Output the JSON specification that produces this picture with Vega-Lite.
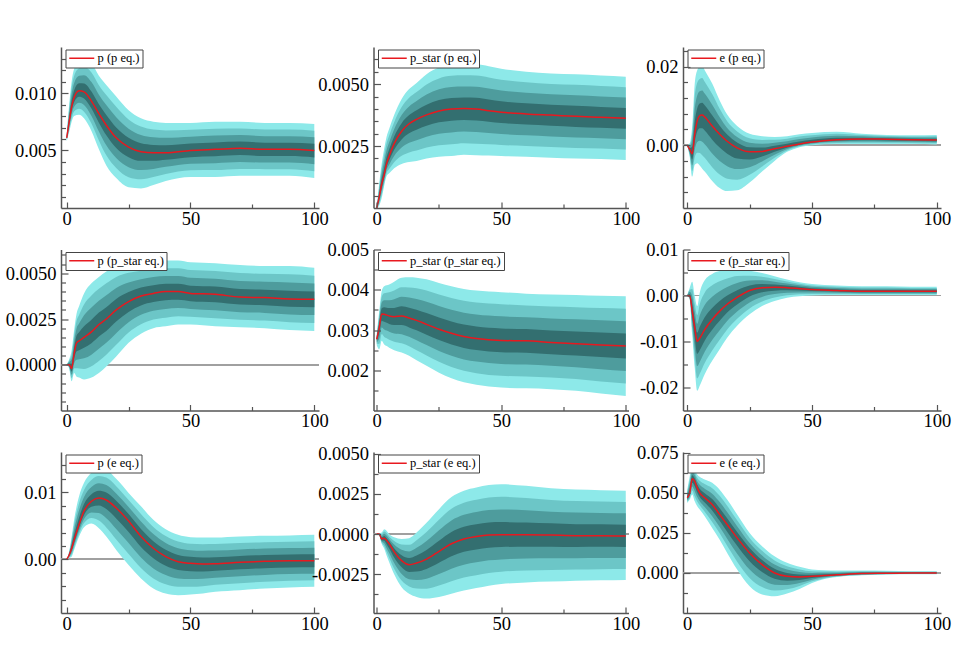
{
"$schema":"https://vega.github.io/schema/vega-lite/v6.json",
"background":"white",
"padding":{"left":5,"top":47,"right":5,"bottom":5},
"columns":3,
"spacing":{"row":41.5,"column":54.5},
"bounds":"flush",
"resolve":{"scale":{"x":"independent","y":"independent","color":"independent"},"legend":{"color":"independent"}},
"config":{
 "view":{"stroke":null},
 "axis":{"labelFont":"Liberation Serif","labelFontSize":18.5,"labelColor":"#000","domainColor":"#555","domainWidth":1.5,"tickColor":"#555","tickWidth":1.2,"grid":false,"labelFlush":false,"labelOverlap":false,"title":null},
 "legend":{"labelFont":"Liberation Serif","labelFontSize":12.5,"labelColor":"#000","strokeColor":"#444","fillColor":"#fff","padding":2.5,"symbolType":"M-1,0H4","symbolSize":100,"symbolStrokeWidth":1.5,"labelOffset":17,"cornerRadius":0}
},
"datasets":{
"A":[
{"t":0,"m":0.0061,"l1":0.0058,"h1":0.0064,"l2":0.00588,"h2":0.00632,"l3":0.00595,"h3":0.00625,"l4":0.00602,"h4":0.00618},
{"t":1,"m":0.0075,"l1":0.0066,"h1":0.009,"l2":0.00682,"h2":0.00862,"l3":0.00705,"h3":0.00825,"l4":0.00728,"h4":0.00788},
{"t":2,"m":0.0088,"l1":0.0075,"h1":0.011,"l2":0.00782,"h2":0.01045,"l3":0.00815,"h3":0.0099,"l4":0.00848,"h4":0.00935},
{"t":3,"m":0.0096,"l1":0.008,"h1":0.0121,"l2":0.0084,"h2":0.01148,"l3":0.0088,"h3":0.01085,"l4":0.0092,"h4":0.01022},
{"t":5,"m":0.0102,"l1":0.0081,"h1":0.0128,"l2":0.00862,"h2":0.01215,"l3":0.00915,"h3":0.0115,"l4":0.00968,"h4":0.01085},
{"t":7,"m":0.0101,"l1":0.0078,"h1":0.013,"l2":0.00838,"h2":0.01228,"l3":0.00895,"h3":0.01155,"l4":0.00952,"h4":0.01082},
{"t":10,"m":0.0093,"l1":0.0067,"h1":0.0126,"l2":0.00735,"h2":0.01178,"l3":0.008,"h3":0.01095,"l4":0.00865,"h4":0.01012},
{"t":13,"m":0.0082,"l1":0.0051,"h1":0.0115,"l2":0.00588,"h2":0.01068,"l3":0.00665,"h3":0.00985,"l4":0.00742,"h4":0.00902},
{"t":16,"m":0.0072,"l1":0.0037,"h1":0.0107,"l2":0.00458,"h2":0.00982,"l3":0.00545,"h3":0.00895,"l4":0.00632,"h4":0.00808},
{"t":20,"m":0.0061,"l1":0.0026,"h1":0.0097,"l2":0.00348,"h2":0.0088,"l3":0.00435,"h3":0.0079,"l4":0.00522,"h4":0.007},
{"t":25,"m":0.0053,"l1":0.0018,"h1":0.0085,"l2":0.00268,"h2":0.0077,"l3":0.00355,"h3":0.0069,"l4":0.00442,"h4":0.0061},
{"t":30,"m":0.0049,"l1":0.0017,"h1":0.0078,"l2":0.0025,"h2":0.00708,"l3":0.0033,"h3":0.00635,"l4":0.0041,"h4":0.00562},
{"t":35,"m":0.0048,"l1":0.002,"h1":0.0075,"l2":0.0027,"h2":0.00682,"l3":0.0034,"h3":0.00615,"l4":0.0041,"h4":0.00548},
{"t":40,"m":0.0048,"l1":0.00235,"h1":0.0074,"l2":0.00296,"h2":0.00675,"l3":0.00358,"h3":0.0061,"l4":0.00419,"h4":0.00545},
{"t":50,"m":0.005,"l1":0.0027,"h1":0.0074,"l2":0.00328,"h2":0.0068,"l3":0.00385,"h3":0.0062,"l4":0.00442,"h4":0.0056},
{"t":60,"m":0.0051,"l1":0.0027,"h1":0.0075,"l2":0.0033,"h2":0.0069,"l3":0.0039,"h3":0.0063,"l4":0.0045,"h4":0.0057},
{"t":70,"m":0.0052,"l1":0.0028,"h1":0.0075,"l2":0.0034,"h2":0.00692,"l3":0.004,"h3":0.00635,"l4":0.0046,"h4":0.00578},
{"t":80,"m":0.0051,"l1":0.0028,"h1":0.0074,"l2":0.00338,"h2":0.00682,"l3":0.00395,"h3":0.00625,"l4":0.00452,"h4":0.00568},
{"t":90,"m":0.0051,"l1":0.0028,"h1":0.0074,"l2":0.00338,"h2":0.00682,"l3":0.00395,"h3":0.00625,"l4":0.00452,"h4":0.00568},
{"t":100,"m":0.005,"l1":0.0026,"h1":0.0073,"l2":0.0032,"h2":0.00672,"l3":0.0038,"h3":0.00615,"l4":0.0044,"h4":0.00558}
],
"B":[
{"t":0,"m":0,"l1":0,"h1":0,"l2":0,"h2":0,"l3":0,"h3":0,"l4":0,"h4":0},
{"t":1,"m":0.00045,"l1":0.0001,"h1":0.001,"l2":0.000188,"h2":0.000862,"l3":0.000275,"h3":0.000725,"l4":0.000362,"h4":0.000588},
{"t":2,"m":0.00097,"l1":0.0004,"h1":0.0018,"l2":0.000542,"h2":0.001592,"l3":0.000685,"h3":0.001385,"l4":0.000828,"h4":0.001178},
{"t":3,"m":0.00135,"l1":0.0009,"h1":0.0024,"l2":0.001012,"h2":0.002138,"l3":0.001125,"h3":0.001875,"l4":0.001238,"h4":0.001612},
{"t":4,"m":0.0018,"l1":0.0013,"h1":0.0029,"l2":0.001425,"h2":0.002625,"l3":0.00155,"h3":0.00235,"l4":0.001675,"h4":0.002075},
{"t":5,"m":0.0021,"l1":0.0014,"h1":0.0032,"l2":0.001575,"h2":0.002925,"l3":0.00175,"h3":0.00265,"l4":0.001925,"h4":0.002375},
{"t":7,"m":0.0026,"l1":0.0016,"h1":0.00375,"l2":0.00185,"h2":0.003462,"l3":0.0021,"h3":0.003175,"l4":0.00235,"h4":0.002888},
{"t":10,"m":0.0031,"l1":0.00178,"h1":0.0044,"l2":0.00211,"h2":0.004075,"l3":0.00244,"h3":0.00375,"l4":0.00277,"h4":0.003425},
{"t":13,"m":0.0034,"l1":0.00186,"h1":0.0048,"l2":0.002245,"h2":0.00445,"l3":0.00263,"h3":0.0041,"l4":0.003015,"h4":0.00375},
{"t":16,"m":0.00358,"l1":0.0019,"h1":0.00505,"l2":0.00232,"h2":0.004682,"l3":0.00274,"h3":0.004315,"l4":0.00316,"h4":0.003948},
{"t":20,"m":0.00376,"l1":0.002,"h1":0.0054,"l2":0.00244,"h2":0.00499,"l3":0.00288,"h3":0.00458,"l4":0.00332,"h4":0.00417},
{"t":25,"m":0.00392,"l1":0.00207,"h1":0.00567,"l2":0.002532,"h2":0.005232,"l3":0.002995,"h3":0.004795,"l4":0.003458,"h4":0.004358},
{"t":30,"m":0.004,"l1":0.0021,"h1":0.00578,"l2":0.002575,"h2":0.005335,"l3":0.00305,"h3":0.00489,"l4":0.003525,"h4":0.004445},
{"t":35,"m":0.00402,"l1":0.00215,"h1":0.0058,"l2":0.002618,"h2":0.005355,"l3":0.003085,"h3":0.00491,"l4":0.003552,"h4":0.004465},
{"t":40,"m":0.004,"l1":0.00213,"h1":0.0058,"l2":0.002598,"h2":0.00535,"l3":0.003065,"h3":0.0049,"l4":0.003532,"h4":0.00445},
{"t":45,"m":0.00393,"l1":0.00212,"h1":0.00572,"l2":0.002572,"h2":0.005272,"l3":0.003025,"h3":0.004825,"l4":0.003478,"h4":0.004378},
{"t":50,"m":0.00387,"l1":0.0021,"h1":0.00562,"l2":0.002542,"h2":0.005182,"l3":0.002985,"h3":0.004745,"l4":0.003428,"h4":0.004308},
{"t":60,"m":0.0038,"l1":0.00207,"h1":0.0055,"l2":0.002502,"h2":0.005075,"l3":0.002935,"h3":0.00465,"l4":0.003368,"h4":0.004225},
{"t":70,"m":0.00375,"l1":0.00203,"h1":0.00543,"l2":0.00246,"h2":0.00501,"l3":0.00289,"h3":0.00459,"l4":0.00332,"h4":0.00417},
{"t":80,"m":0.0037,"l1":0.002,"h1":0.0054,"l2":0.002425,"h2":0.004975,"l3":0.00285,"h3":0.00455,"l4":0.003275,"h4":0.004125},
{"t":90,"m":0.00366,"l1":0.00198,"h1":0.00535,"l2":0.0024,"h2":0.004928,"l3":0.00282,"h3":0.004505,"l4":0.00324,"h4":0.004082},
{"t":100,"m":0.00362,"l1":0.00194,"h1":0.0053,"l2":0.00236,"h2":0.00488,"l3":0.00278,"h3":0.00446,"l4":0.0032,"h4":0.00404}
],
"C":[
{"t":0,"m":0,"l1":0,"h1":0,"l2":0,"h2":0,"l3":0,"h3":0,"l4":0,"h4":0},
{"t":1,"m":-0.0011,"l1":-0.003,"h1":0.0005,"l2":-0.00252,"h2":0.0001,"l3":-0.00205,"h3":-0.0003,"l4":-0.00158,"h4":-0.0007},
{"t":2,"m":-0.0022,"l1":-0.008,"h1":0.005,"l2":-0.00655,"h2":0.0032,"l3":-0.0051,"h3":0.0014,"l4":-0.00365,"h4":-0.0004},
{"t":3,"m":0.0028,"l1":-0.005,"h1":0.0157,"l2":-0.00305,"h2":0.01248,"l3":-0.0011,"h3":0.00925,"l4":0.00085,"h4":0.00602},
{"t":4,"m":0.0062,"l1":-0.0046,"h1":0.0191,"l2":-0.0019,"h2":0.01588,"l3":0.0008,"h3":0.01265,"l4":0.0035,"h4":0.00942},
{"t":5,"m":0.0075,"l1":-0.0052,"h1":0.02,"l2":-0.00202,"h2":0.01688,"l3":0.00115,"h3":0.01375,"l4":0.00432,"h4":0.01062},
{"t":6,"m":0.0077,"l1":-0.006,"h1":0.0202,"l2":-0.00258,"h2":0.01708,"l3":0.00085,"h3":0.01395,"l4":0.00428,"h4":0.01082},
{"t":7,"m":0.0072,"l1":-0.0067,"h1":0.0191,"l2":-0.00322,"h2":0.01612,"l3":0.00025,"h3":0.01315,"l4":0.00372,"h4":0.01018},
{"t":10,"m":0.0049,"l1":-0.0091,"h1":0.0157,"l2":-0.0056,"h2":0.013,"l3":-0.0021,"h3":0.0103,"l4":0.0014,"h4":0.0076},
{"t":13,"m":0.0028,"l1":-0.0109,"h1":0.0114,"l2":-0.00748,"h2":0.00925,"l3":-0.00405,"h3":0.0071,"l4":-0.00062,"h4":0.00495},
{"t":16,"m":0.001,"l1":-0.0117,"h1":0.0078,"l2":-0.00852,"h2":0.0061,"l3":-0.00535,"h3":0.0044,"l4":-0.00218,"h4":0.0027},
{"t":20,"m":-0.0007,"l1":-0.0115,"h1":0.0049,"l2":-0.0088,"h2":0.0035,"l3":-0.0061,"h3":0.0021,"l4":-0.0034,"h4":0.0007},
{"t":25,"m":-0.0017,"l1":-0.0095,"h1":0.0029,"l2":-0.00755,"h2":0.00175,"l3":-0.0056,"h3":0.0006,"l4":-0.00365,"h4":-0.00055},
{"t":30,"m":-0.0016,"l1":-0.0067,"h1":0.0023,"l2":-0.00542,"h2":0.00132,"l3":-0.00415,"h3":0.00035,"l4":-0.00288,"h4":-0.00062},
{"t":35,"m":-0.0009,"l1":-0.004,"h1":0.0021,"l2":-0.00322,"h2":0.00135,"l3":-0.00245,"h3":0.0006,"l4":-0.00168,"h4":-0.00015},
{"t":40,"m":-0.0003,"l1":-0.0017,"h1":0.0023,"l2":-0.00135,"h2":0.00165,"l3":-0.001,"h3":0.001,"l4":-0.00065,"h4":0.00035},
{"t":45,"m":0.0003,"l1":-0.0005,"h1":0.0028,"l2":-0.0003,"h2":0.00218,"l3":-0.0001,"h3":0.00155,"l4":0.0001,"h4":0.00092},
{"t":50,"m":0.0008,"l1":0,"h1":0.0031,"l2":0.0002,"h2":0.00252,"l3":0.0004,"h3":0.00195,"l4":0.0006,"h4":0.00138},
{"t":60,"m":0.0014,"l1":0.0003,"h1":0.0034,"l2":0.00058,"h2":0.0029,"l3":0.00085,"h3":0.0024,"l4":0.00112,"h4":0.0019},
{"t":70,"m":0.0016,"l1":0.0003,"h1":0.0029,"l2":0.00062,"h2":0.00258,"l3":0.00095,"h3":0.00225,"l4":0.00128,"h4":0.00192},
{"t":80,"m":0.0015,"l1":0.0003,"h1":0.0026,"l2":0.0006,"h2":0.00232,"l3":0.0009,"h3":0.00205,"l4":0.0012,"h4":0.00178},
{"t":90,"m":0.0014,"l1":0.0003,"h1":0.0025,"l2":0.00058,"h2":0.00222,"l3":0.00085,"h3":0.00195,"l4":0.00112,"h4":0.00168},
{"t":100,"m":0.0013,"l1":0.0002,"h1":0.0026,"l2":0.00048,"h2":0.00228,"l3":0.00075,"h3":0.00195,"l4":0.00102,"h4":0.00162}
],
"D":[
{"t":0,"m":0,"l1":0,"h1":0,"l2":0,"h2":0,"l3":0,"h3":0,"l4":0,"h4":0},
{"t":1,"m":0,"l1":-0.0002,"h1":0.0003,"l2":-0.00015,"h2":0.000225,"l3":-0.0001,"h3":0.00015,"l4":-0.00005,"h4":0.000075},
{"t":2,"m":-0.0002,"l1":-0.0009,"h1":0.0008,"l2":-0.000725,"h2":0.00055,"l3":-0.00055,"h3":0.0003,"l4":-0.000375,"h4":0.00005},
{"t":3,"m":0.0006,"l1":-0.00045,"h1":0.0019,"l2":-0.000188,"h2":0.001575,"l3":0.000075,"h3":0.00125,"l4":0.000338,"h4":0.000925},
{"t":4,"m":0.0012,"l1":-0.00065,"h1":0.0028,"l2":-0.000188,"h2":0.0024,"l3":0.000275,"h3":0.002,"l4":0.000738,"h4":0.0016},
{"t":5,"m":0.0013,"l1":-0.0007,"h1":0.0032,"l2":-0.0002,"h2":0.002725,"l3":0.0003,"h3":0.00225,"l4":0.0008,"h4":0.001775},
{"t":7,"m":0.0015,"l1":-0.0008,"h1":0.0039,"l2":-0.000225,"h2":0.0033,"l3":0.00035,"h3":0.0027,"l4":0.000925,"h4":0.0021},
{"t":10,"m":0.0018,"l1":-0.0007,"h1":0.00445,"l2":-0.000075,"h2":0.003788,"l3":0.00055,"h3":0.003125,"l4":0.001175,"h4":0.002462},
{"t":13,"m":0.0022,"l1":-0.00045,"h1":0.0048,"l2":0.000212,"h2":0.00415,"l3":0.000875,"h3":0.0035,"l4":0.001538,"h4":0.00285},
{"t":16,"m":0.0025,"l1":-0.0001,"h1":0.0051,"l2":0.00055,"h2":0.00445,"l3":0.0012,"h3":0.0038,"l4":0.00185,"h4":0.00315},
{"t":20,"m":0.003,"l1":0.00045,"h1":0.0054,"l2":0.001088,"h2":0.0048,"l3":0.001725,"h3":0.0042,"l4":0.002362,"h4":0.0036},
{"t":25,"m":0.00345,"l1":0.0012,"h1":0.00555,"l2":0.001762,"h2":0.005025,"l3":0.002325,"h3":0.0045,"l4":0.002888,"h4":0.003975},
{"t":30,"m":0.00376,"l1":0.0017,"h1":0.0056,"l2":0.002215,"h2":0.00514,"l3":0.00273,"h3":0.00468,"l4":0.003245,"h4":0.00422},
{"t":35,"m":0.0039,"l1":0.002,"h1":0.0057,"l2":0.002475,"h2":0.00525,"l3":0.00295,"h3":0.0048,"l4":0.003425,"h4":0.00435},
{"t":40,"m":0.004,"l1":0.0021,"h1":0.0057,"l2":0.002575,"h2":0.005275,"l3":0.00305,"h3":0.00485,"l4":0.003525,"h4":0.004425},
{"t":45,"m":0.004,"l1":0.0022,"h1":0.0057,"l2":0.00265,"h2":0.005275,"l3":0.0031,"h3":0.00485,"l4":0.00355,"h4":0.004425},
{"t":50,"m":0.0039,"l1":0.0022,"h1":0.0056,"l2":0.002625,"h2":0.005175,"l3":0.00305,"h3":0.00475,"l4":0.003475,"h4":0.004325},
{"t":60,"m":0.00385,"l1":0.0021,"h1":0.00555,"l2":0.002538,"h2":0.005125,"l3":0.002975,"h3":0.0047,"l4":0.003412,"h4":0.004275},
{"t":70,"m":0.0037,"l1":0.00205,"h1":0.00545,"l2":0.002462,"h2":0.005012,"l3":0.002875,"h3":0.004575,"l4":0.003288,"h4":0.004138},
{"t":80,"m":0.00367,"l1":0.002,"h1":0.0054,"l2":0.002418,"h2":0.004968,"l3":0.002835,"h3":0.004535,"l4":0.003252,"h4":0.004102},
{"t":90,"m":0.0036,"l1":0.0019,"h1":0.0054,"l2":0.002325,"h2":0.00495,"l3":0.00275,"h3":0.0045,"l4":0.003175,"h4":0.00405},
{"t":100,"m":0.00358,"l1":0.00185,"h1":0.0053,"l2":0.002282,"h2":0.00487,"l3":0.002715,"h3":0.00444,"l4":0.003148,"h4":0.00401}
],
"E":[
{"t":0,"m":0.00277,"l1":0.00262,"h1":0.0029,"l2":0.002658,"h2":0.002868,"l3":0.002695,"h3":0.002835,"l4":0.002732,"h4":0.002802},
{"t":1,"m":0.00306,"l1":0.00252,"h1":0.00347,"l2":0.002655,"h2":0.003368,"l3":0.00279,"h3":0.003265,"l4":0.002925,"h4":0.003162},
{"t":2,"m":0.0034,"l1":0.00273,"h1":0.00397,"l2":0.002898,"h2":0.003828,"l3":0.003065,"h3":0.003685,"l4":0.003232,"h4":0.003542},
{"t":3,"m":0.00339,"l1":0.00264,"h1":0.00409,"l2":0.002828,"h2":0.003915,"l3":0.003015,"h3":0.00374,"l4":0.003202,"h4":0.003565},
{"t":4,"m":0.00337,"l1":0.0026,"h1":0.00411,"l2":0.002792,"h2":0.003925,"l3":0.002985,"h3":0.00374,"l4":0.003178,"h4":0.003555},
{"t":5,"m":0.00335,"l1":0.00256,"h1":0.00413,"l2":0.002758,"h2":0.003935,"l3":0.002955,"h3":0.00374,"l4":0.003152,"h4":0.003545},
{"t":7,"m":0.00333,"l1":0.0025,"h1":0.0042,"l2":0.002708,"h2":0.003982,"l3":0.002915,"h3":0.003765,"l4":0.003122,"h4":0.003548},
{"t":10,"m":0.00335,"l1":0.00244,"h1":0.0043,"l2":0.002668,"h2":0.004062,"l3":0.002895,"h3":0.003825,"l4":0.003122,"h4":0.003588},
{"t":13,"m":0.0033,"l1":0.00236,"h1":0.00431,"l2":0.002595,"h2":0.004058,"l3":0.00283,"h3":0.003805,"l4":0.003065,"h4":0.003552},
{"t":16,"m":0.00324,"l1":0.00225,"h1":0.0043,"l2":0.002498,"h2":0.004035,"l3":0.002745,"h3":0.00377,"l4":0.002992,"h4":0.003505},
{"t":20,"m":0.00314,"l1":0.00211,"h1":0.00426,"l2":0.002368,"h2":0.00398,"l3":0.002625,"h3":0.0037,"l4":0.002882,"h4":0.00342},
{"t":25,"m":0.00302,"l1":0.00194,"h1":0.00417,"l2":0.00221,"h2":0.003882,"l3":0.00248,"h3":0.003595,"l4":0.00275,"h4":0.003308},
{"t":30,"m":0.00292,"l1":0.0018,"h1":0.00409,"l2":0.00208,"h2":0.003798,"l3":0.00236,"h3":0.003505,"l4":0.00264,"h4":0.003212},
{"t":35,"m":0.00284,"l1":0.0017,"h1":0.00402,"l2":0.001985,"h2":0.003725,"l3":0.00227,"h3":0.00343,"l4":0.002555,"h4":0.003135},
{"t":40,"m":0.00279,"l1":0.00164,"h1":0.00398,"l2":0.001928,"h2":0.003682,"l3":0.002215,"h3":0.003385,"l4":0.002502,"h4":0.003088},
{"t":50,"m":0.00274,"l1":0.00157,"h1":0.00394,"l2":0.001862,"h2":0.00364,"l3":0.002155,"h3":0.00334,"l4":0.002448,"h4":0.00304},
{"t":60,"m":0.00273,"l1":0.00155,"h1":0.0039,"l2":0.001845,"h2":0.003608,"l3":0.00214,"h3":0.003315,"l4":0.002435,"h4":0.003022},
{"t":70,"m":0.00269,"l1":0.00153,"h1":0.00388,"l2":0.00182,"h2":0.003582,"l3":0.00211,"h3":0.003285,"l4":0.0024,"h4":0.002988},
{"t":80,"m":0.00266,"l1":0.00149,"h1":0.00387,"l2":0.001782,"h2":0.003568,"l3":0.002075,"h3":0.003265,"l4":0.002368,"h4":0.002962},
{"t":90,"m":0.00263,"l1":0.00142,"h1":0.00385,"l2":0.001722,"h2":0.003545,"l3":0.002025,"h3":0.00324,"l4":0.002328,"h4":0.002935},
{"t":100,"m":0.0026,"l1":0.00136,"h1":0.00384,"l2":0.00167,"h2":0.00353,"l3":0.00198,"h3":0.00322,"l4":0.00229,"h4":0.00291}
],
"F":[
{"t":0,"m":0,"l1":0,"h1":0,"l2":0,"h2":0,"l3":0,"h3":0,"l4":0,"h4":0},
{"t":1,"m":-0.0001,"l1":-0.0009,"h1":0.0017,"l2":-0.0007,"h2":0.00125,"l3":-0.0005,"h3":0.0008,"l4":-0.0003,"h4":0.00035},
{"t":2,"m":-0.0034,"l1":-0.0084,"h1":0.003,"l2":-0.00715,"h2":0.0014,"l3":-0.0059,"h3":-0.0002,"l4":-0.00465,"h4":-0.0018},
{"t":3,"m":-0.007,"l1":-0.0157,"h1":-0.0001,"l2":-0.01352,"h2":-0.00182,"l3":-0.01135,"h3":-0.00355,"l4":-0.00918,"h4":-0.00528},
{"t":4,"m":-0.01,"l1":-0.0207,"h1":-0.0023,"l2":-0.01802,"h2":-0.00422,"l3":-0.01535,"h3":-0.00615,"l4":-0.01268,"h4":-0.00808},
{"t":5,"m":-0.0093,"l1":-0.0196,"h1":0.0006,"l2":-0.01702,"h2":-0.00188,"l3":-0.01445,"h3":-0.00435,"l4":-0.01188,"h4":-0.00682},
{"t":7,"m":-0.0074,"l1":-0.0171,"h1":0.0033,"l2":-0.01468,"h2":0.00062,"l3":-0.01225,"h3":-0.00205,"l4":-0.00982,"h4":-0.00472},
{"t":10,"m":-0.0052,"l1":-0.0142,"h1":0.0047,"l2":-0.01195,"h2":0.00222,"l3":-0.0097,"h3":-0.00025,"l4":-0.00745,"h4":-0.00272},
{"t":13,"m":-0.0034,"l1":-0.0117,"h1":0.0053,"l2":-0.00962,"h2":0.00312,"l3":-0.00755,"h3":0.00095,"l4":-0.00548,"h4":-0.00122},
{"t":16,"m":-0.0019,"l1":-0.0092,"h1":0.0056,"l2":-0.00738,"h2":0.00372,"l3":-0.00555,"h3":0.00185,"l4":-0.00372,"h4":-0.00002},
{"t":20,"m":-0.0004,"l1":-0.0066,"h1":0.0058,"l2":-0.00505,"h2":0.00425,"l3":-0.0035,"h3":0.0027,"l4":-0.00195,"h4":0.00115},
{"t":25,"m":0.0011,"l1":-0.0041,"h1":0.0054,"l2":-0.0028,"h2":0.00432,"l3":-0.0015,"h3":0.00325,"l4":-0.0002,"h4":0.00218},
{"t":30,"m":0.0017,"l1":-0.0023,"h1":0.0049,"l2":-0.0013,"h2":0.0041,"l3":-0.0003,"h3":0.0033,"l4":0.0007,"h4":0.0025},
{"t":35,"m":0.0018,"l1":-0.0012,"h1":0.0042,"l2":-0.00045,"h2":0.0036,"l3":0.0003,"h3":0.003,"l4":0.00105,"h4":0.0024},
{"t":40,"m":0.0017,"l1":-0.0005,"h1":0.0035,"l2":0.00005,"h2":0.00305,"l3":0.0006,"h3":0.0026,"l4":0.00115,"h4":0.00215},
{"t":50,"m":0.0013,"l1":0,"h1":0.0025,"l2":0.00032,"h2":0.0022,"l3":0.00065,"h3":0.0019,"l4":0.00098,"h4":0.0016},
{"t":60,"m":0.0011,"l1":0.0001,"h1":0.0022,"l2":0.00035,"h2":0.00192,"l3":0.0006,"h3":0.00165,"l4":0.00085,"h4":0.00138},
{"t":70,"m":0.0009,"l1":0.0001,"h1":0.002,"l2":0.0003,"h2":0.00172,"l3":0.0005,"h3":0.00145,"l4":0.0007,"h4":0.00118},
{"t":80,"m":0.0009,"l1":0.0001,"h1":0.002,"l2":0.0003,"h2":0.00172,"l3":0.0005,"h3":0.00145,"l4":0.0007,"h4":0.00118},
{"t":90,"m":0.0009,"l1":0.0001,"h1":0.0019,"l2":0.0003,"h2":0.00165,"l3":0.0005,"h3":0.0014,"l4":0.0007,"h4":0.00115},
{"t":100,"m":0.0009,"l1":0.0001,"h1":0.0019,"l2":0.0003,"h2":0.00165,"l3":0.0005,"h3":0.0014,"l4":0.0007,"h4":0.00115}
],
"G":[
{"t":0,"m":0,"l1":0,"h1":0,"l2":0,"h2":0,"l3":0,"h3":0,"l4":0,"h4":0},
{"t":1,"m":0.00065,"l1":0.0002,"h1":0.0012,"l2":0.000312,"h2":0.001062,"l3":0.000425,"h3":0.000925,"l4":0.000538,"h4":0.000788},
{"t":2,"m":0.00165,"l1":0.0004,"h1":0.0034,"l2":0.000712,"h2":0.002962,"l3":0.001025,"h3":0.002525,"l4":0.001338,"h4":0.002088},
{"t":3,"m":0.0029,"l1":0.0014,"h1":0.0059,"l2":0.001775,"h2":0.00515,"l3":0.00215,"h3":0.0044,"l4":0.002525,"h4":0.00365},
{"t":5,"m":0.0052,"l1":0.0034,"h1":0.0094,"l2":0.00385,"h2":0.00835,"l3":0.0043,"h3":0.0073,"l4":0.00475,"h4":0.00625},
{"t":7,"m":0.0072,"l1":0.0048,"h1":0.0114,"l2":0.0054,"h2":0.01035,"l3":0.006,"h3":0.0093,"l4":0.0066,"h4":0.00825},
{"t":10,"m":0.00865,"l1":0.00535,"h1":0.0129,"l2":0.006175,"h2":0.011838,"l3":0.007,"h3":0.010775,"l4":0.007825,"h4":0.009712},
{"t":13,"m":0.00915,"l1":0.00465,"h1":0.0135,"l2":0.005775,"h2":0.012412,"l3":0.0069,"h3":0.011325,"l4":0.008025,"h4":0.010238},
{"t":16,"m":0.00885,"l1":0.0034,"h1":0.0133,"l2":0.004762,"h2":0.012188,"l3":0.006125,"h3":0.011075,"l4":0.007488,"h4":0.009962},
{"t":20,"m":0.00765,"l1":0.0014,"h1":0.012,"l2":0.002962,"h2":0.010912,"l3":0.004525,"h3":0.009825,"l4":0.006088,"h4":0.008738},
{"t":25,"m":0.0057,"l1":-0.00085,"h1":0.0099,"l2":0.000788,"h2":0.00885,"l3":0.002425,"h3":0.0078,"l4":0.004062,"h4":0.00675},
{"t":30,"m":0.0034,"l1":-0.00285,"h1":0.0079,"l2":-0.001288,"h2":0.006775,"l3":0.000275,"h3":0.00565,"l4":0.001838,"h4":0.004525},
{"t":35,"m":0.00165,"l1":-0.00435,"h1":0.0059,"l2":-0.00285,"h2":0.004838,"l3":-0.00135,"h3":0.003775,"l4":0.00015,"h4":0.002712},
{"t":40,"m":0.0004,"l1":-0.0051,"h1":0.0045,"l2":-0.003725,"h2":0.003475,"l3":-0.00235,"h3":0.00245,"l4":-0.000975,"h4":0.001425},
{"t":45,"m":-0.00035,"l1":-0.00535,"h1":0.00365,"l2":-0.0041,"h2":0.00265,"l3":-0.00285,"h3":0.00165,"l4":-0.0016,"h4":0.00065},
{"t":50,"m":-0.0006,"l1":-0.00525,"h1":0.0033,"l2":-0.004088,"h2":0.002325,"l3":-0.002925,"h3":0.00135,"l4":-0.001762,"h4":0.000375},
{"t":55,"m":-0.0007,"l1":-0.0051,"h1":0.00325,"l2":-0.004,"h2":0.002262,"l3":-0.0029,"h3":0.001275,"l4":-0.0018,"h4":0.000288},
{"t":60,"m":-0.00065,"l1":-0.00485,"h1":0.00325,"l2":-0.0038,"h2":0.002275,"l3":-0.00275,"h3":0.0013,"l4":-0.0017,"h4":0.000325},
{"t":70,"m":-0.00045,"l1":-0.0046,"h1":0.0034,"l2":-0.003562,"h2":0.002438,"l3":-0.002525,"h3":0.001475,"l4":-0.001488,"h4":0.000512},
{"t":80,"m":-0.0003,"l1":-0.00435,"h1":0.0035,"l2":-0.003338,"h2":0.00255,"l3":-0.002325,"h3":0.0016,"l4":-0.001312,"h4":0.00065},
{"t":90,"m":-0.0002,"l1":-0.0042,"h1":0.00355,"l2":-0.0032,"h2":0.002612,"l3":-0.0022,"h3":0.001675,"l4":-0.0012,"h4":0.000738},
{"t":100,"m":-0.0002,"l1":-0.0041,"h1":0.00365,"l2":-0.003125,"h2":0.002688,"l3":-0.00215,"h3":0.001725,"l4":-0.001175,"h4":0.000762}
],
"H":[
{"t":0,"m":0,"l1":0,"h1":0,"l2":0,"h2":0,"l3":0,"h3":0,"l4":0,"h4":0},
{"t":1,"m":0,"l1":-0.0001,"h1":0.00005,"l2":-0.000075,"h2":0.000038,"l3":-0.00005,"h3":0.000025,"l4":-0.000025,"h4":0.000012},
{"t":2,"m":-0.0003,"l1":-0.0006,"h1":0.0001,"l2":-0.000525,"h2":0,"l3":-0.00045,"h3":-0.0001,"l4":-0.000375,"h4":-0.0002},
{"t":3,"m":-0.00025,"l1":-0.0009,"h1":0.0003,"l2":-0.000738,"h2":0.000162,"l3":-0.000575,"h3":0.000025,"l4":-0.000412,"h4":-0.000112},
{"t":4,"m":-0.0004,"l1":-0.00135,"h1":0.0002,"l2":-0.001112,"h2":0.00005,"l3":-0.000875,"h3":-0.0001,"l4":-0.000638,"h4":-0.00025},
{"t":5,"m":-0.0006,"l1":-0.00175,"h1":0,"l2":-0.001462,"h2":-0.00015,"l3":-0.001175,"h3":-0.0003,"l4":-0.000888,"h4":-0.00045},
{"t":7,"m":-0.0011,"l1":-0.0025,"h1":-0.0002,"l2":-0.00215,"h2":-0.000425,"l3":-0.0018,"h3":-0.00065,"l4":-0.00145,"h4":-0.000875},
{"t":10,"m":-0.00165,"l1":-0.0033,"h1":-0.0003,"l2":-0.002888,"h2":-0.000638,"l3":-0.002475,"h3":-0.000975,"l4":-0.002062,"h4":-0.001312},
{"t":13,"m":-0.0019,"l1":-0.0037,"h1":-0.00025,"l2":-0.00325,"h2":-0.000662,"l3":-0.0028,"h3":-0.001075,"l4":-0.00235,"h4":-0.001488},
{"t":16,"m":-0.0018,"l1":-0.0039,"h1":0.0001,"l2":-0.003375,"h2":-0.000375,"l3":-0.00285,"h3":-0.00085,"l4":-0.002325,"h4":-0.001325},
{"t":20,"m":-0.00155,"l1":-0.004,"h1":0.0007,"l2":-0.003388,"h2":0.000138,"l3":-0.002775,"h3":-0.000425,"l4":-0.002162,"h4":-0.000988},
{"t":25,"m":-0.00107,"l1":-0.0039,"h1":0.00155,"l2":-0.003192,"h2":0.000895,"l3":-0.002485,"h3":0.00024,"l4":-0.001778,"h4":-0.000415},
{"t":30,"m":-0.0006,"l1":-0.0037,"h1":0.0023,"l2":-0.002925,"h2":0.001575,"l3":-0.00215,"h3":0.00085,"l4":-0.001375,"h4":0.000125},
{"t":35,"m":-0.0003,"l1":-0.0035,"h1":0.0027,"l2":-0.0027,"h2":0.00195,"l3":-0.0019,"h3":0.0012,"l4":-0.0011,"h4":0.00045},
{"t":40,"m":-0.00015,"l1":-0.00335,"h1":0.0029,"l2":-0.00255,"h2":0.002138,"l3":-0.00175,"h3":0.001375,"l4":-0.00095,"h4":0.000612},
{"t":45,"m":-0.00006,"l1":-0.0032,"h1":0.00305,"l2":-0.002415,"h2":0.002272,"l3":-0.00163,"h3":0.001495,"l4":-0.000845,"h4":0.000718},
{"t":50,"m":-0.00004,"l1":-0.0031,"h1":0.0031,"l2":-0.002335,"h2":0.002315,"l3":-0.00157,"h3":0.00153,"l4":-0.000805,"h4":0.000745},
{"t":60,"m":-0.00004,"l1":-0.003,"h1":0.003,"l2":-0.00226,"h2":0.00224,"l3":-0.00152,"h3":0.00148,"l4":-0.00078,"h4":0.00072},
{"t":70,"m":-0.00006,"l1":-0.00295,"h1":0.00285,"l2":-0.002228,"h2":0.002122,"l3":-0.001505,"h3":0.001395,"l4":-0.000782,"h4":0.000668},
{"t":80,"m":-0.0001,"l1":-0.0029,"h1":0.00277,"l2":-0.0022,"h2":0.002052,"l3":-0.0015,"h3":0.001335,"l4":-0.0008,"h4":0.000618},
{"t":90,"m":-0.0001,"l1":-0.00287,"h1":0.00273,"l2":-0.002178,"h2":0.002022,"l3":-0.001485,"h3":0.001315,"l4":-0.000792,"h4":0.000608},
{"t":100,"m":-0.00012,"l1":-0.00285,"h1":0.0027,"l2":-0.002168,"h2":0.001995,"l3":-0.001485,"h3":0.00129,"l4":-0.000802,"h4":0.000585}
],
"I":[
{"t":0,"m":0.047,"l1":0.0437,"h1":0.052,"l2":0.04452,"h2":0.05075,"l3":0.04535,"h3":0.0495,"l4":0.04618,"h4":0.04825},
{"t":1,"m":0.05,"l1":0.0458,"h1":0.0604,"l2":0.04685,"h2":0.0578,"l3":0.0479,"h3":0.0552,"l4":0.04895,"h4":0.0526},
{"t":2,"m":0.0588,"l1":0.049,"h1":0.0677,"l2":0.05145,"h2":0.06548,"l3":0.0539,"h3":0.06325,"l4":0.05635,"h4":0.06102},
{"t":3,"m":0.0573,"l1":0.0448,"h1":0.0646,"l2":0.04792,"h2":0.06278,"l3":0.05105,"h3":0.06095,"l4":0.05418,"h4":0.05912},
{"t":4,"m":0.0531,"l1":0.0417,"h1":0.0615,"l2":0.04455,"h2":0.0594,"l3":0.0474,"h3":0.0573,"l4":0.05025,"h4":0.0552},
{"t":5,"m":0.05,"l1":0.0396,"h1":0.06,"l2":0.0422,"h2":0.0575,"l3":0.0448,"h3":0.055,"l4":0.0474,"h4":0.0525},
{"t":7,"m":0.0469,"l1":0.0354,"h1":0.0583,"l2":0.03828,"h2":0.05545,"l3":0.04115,"h3":0.0526,"l4":0.04402,"h4":0.04975},
{"t":10,"m":0.0427,"l1":0.0281,"h1":0.0563,"l2":0.03175,"h2":0.0529,"l3":0.0354,"h3":0.0495,"l4":0.03905,"h4":0.0461},
{"t":13,"m":0.0365,"l1":0.0208,"h1":0.052,"l2":0.02472,"h2":0.04812,"l3":0.02865,"h3":0.04425,"l4":0.03258,"h4":0.04038},
{"t":16,"m":0.0302,"l1":0.0125,"h1":0.0458,"l2":0.01692,"h2":0.0419,"l3":0.02135,"h3":0.038,"l4":0.02578,"h4":0.0341},
{"t":20,"m":0.0219,"l1":0.0021,"h1":0.0365,"l2":0.00705,"h2":0.03285,"l3":0.012,"h3":0.0292,"l4":0.01695,"h4":0.02555},
{"t":25,"m":0.0125,"l1":-0.0083,"h1":0.025,"l2":-0.0031,"h2":0.02188,"l3":0.0021,"h3":0.01875,"l4":0.0073,"h4":0.01562},
{"t":30,"m":0.0052,"l1":-0.0135,"h1":0.0167,"l2":-0.00882,"h2":0.01382,"l3":-0.00415,"h3":0.01095,"l4":0.00052,"h4":0.00808},
{"t":35,"m":0,"l1":-0.0146,"h1":0.0104,"l2":-0.01095,"h2":0.0078,"l3":-0.0073,"h3":0.0052,"l4":-0.00365,"h4":0.0026},
{"t":40,"m":-0.0021,"l1":-0.0129,"h1":0.0063,"l2":-0.0102,"h2":0.0042,"l3":-0.0075,"h3":0.0021,"l4":-0.0048,"h4":0},
{"t":45,"m":-0.0025,"l1":-0.01,"h1":0.0038,"l2":-0.00812,"h2":0.00222,"l3":-0.00625,"h3":0.00065,"l4":-0.00438,"h4":-0.00092},
{"t":50,"m":-0.0021,"l1":-0.0063,"h1":0.0021,"l2":-0.00525,"h2":0.00105,"l3":-0.0042,"h3":0,"l4":-0.00315,"h4":-0.00105},
{"t":55,"m":-0.0016,"l1":-0.0038,"h1":0.0017,"l2":-0.00325,"h2":0.00088,"l3":-0.0027,"h3":0.00005,"l4":-0.00215,"h4":-0.00078},
{"t":60,"m":-0.0012,"l1":-0.0025,"h1":0.0015,"l2":-0.00218,"h2":0.00082,"l3":-0.00185,"h3":0.00015,"l4":-0.00152,"h4":-0.00052},
{"t":70,"m":-0.0004,"l1":-0.0015,"h1":0.0015,"l2":-0.00122,"h2":0.00102,"l3":-0.00095,"h3":0.00055,"l4":-0.00068,"h4":0.00008},
{"t":80,"m":-0.0002,"l1":-0.001,"h1":0.0013,"l2":-0.0008,"h2":0.00092,"l3":-0.0006,"h3":0.00055,"l4":-0.0004,"h4":0.00018},
{"t":90,"m":0,"l1":-0.0008,"h1":0.001,"l2":-0.0006,"h2":0.00075,"l3":-0.0004,"h3":0.0005,"l4":-0.0002,"h4":0.00025},
{"t":100,"m":0,"l1":-0.0008,"h1":0.001,"l2":-0.0006,"h2":0.00075,"l3":-0.0004,"h3":0.0005,"l4":-0.0002,"h4":0.00025}
]
},
"concat":[
{"width":258,"height":161,"data":{"name":"A"},"resolve":{"axis":{"x":"independent","y":"independent"}},
 "layer":[
  {"mark":{"type":"area","color":"#8de9e9","interpolate":"monotone"},"encoding":{"x":{"field":"t","type":"quantitative","scale":{"domain":[-2.3,101.9],"nice":false,"zero":false},"axis":{"orient":"bottom","values":[0,50,100],"ticks":false,"labelPadding":1}},"y":{"field":"l1","type":"quantitative","scale":{"domain":[0,0.014],"nice":false,"zero":false},"axis":{"orient":"left","values":[0.005,0.01],"format":".3f","ticks":false,"labelPadding":5}},"y2":{"field":"h1"}}},
  {"mark":{"type":"area","color":"#6cc6c7","interpolate":"monotone"},"encoding":{"x":{"field":"t","type":"quantitative","axis":null},"y":{"field":"l2","type":"quantitative","axis":null},"y2":{"field":"h2"}}},
  {"mark":{"type":"area","color":"#4e9c9d","interpolate":"monotone"},"encoding":{"x":{"field":"t","type":"quantitative","axis":null},"y":{"field":"l3","type":"quantitative","axis":null},"y2":{"field":"h3"}}},
  {"mark":{"type":"area","color":"#336f70","interpolate":"monotone"},"encoding":{"x":{"field":"t","type":"quantitative","axis":null},"y":{"field":"l4","type":"quantitative","axis":null},"y2":{"field":"h4"}}},
  {"mark":{"type":"line","strokeWidth":1.5,"interpolate":"monotone"},"encoding":{"x":{"field":"t","type":"quantitative","axis":{"orient":"bottom","values":[0,25,50,75,100],"labels":false,"domain":false,"zindex":1,"tickSize":{"condition":{"test":"datum.value % 50 === 0","value":-6},"value":-4}}},"y":{"field":"m","type":"quantitative","axis":{"orient":"left","values":[0.001,0.002,0.003,0.004,0.005,0.006,0.007,0.008,0.009,0.01,0.011,0.012,0.013],"labels":false,"domain":false,"zindex":1,"tickSize":{"condition":{"test":"indexof([0.005,0.01], datum.value) >= 0","value":-7},"value":-4.5}}},"color":{"datum":"p (p eq.)","scale":{"range":["#e8191f"]},"legend":{"title":null,"orient":"none","legendX":4.5,"legendY":2.5}}}}
 ]},
{"width":255,"height":161,"data":{"name":"B"},"resolve":{"axis":{"x":"independent","y":"independent"}},
 "layer":[
  {"mark":{"type":"area","color":"#8de9e9","interpolate":"monotone"},"encoding":{"x":{"field":"t","type":"quantitative","scale":{"domain":[-1.3,101.1],"nice":false,"zero":false},"axis":{"orient":"bottom","values":[0,50,100],"ticks":false,"labelPadding":1}},"y":{"field":"l1","type":"quantitative","scale":{"domain":[0,0.0065],"nice":false,"zero":false},"axis":{"orient":"left","values":[0.0025,0.005],"format":".4f","ticks":false,"labelPadding":5}},"y2":{"field":"h1"}}},
  {"mark":{"type":"area","color":"#6cc6c7","interpolate":"monotone"},"encoding":{"x":{"field":"t","type":"quantitative","axis":null},"y":{"field":"l2","type":"quantitative","axis":null},"y2":{"field":"h2"}}},
  {"mark":{"type":"area","color":"#4e9c9d","interpolate":"monotone"},"encoding":{"x":{"field":"t","type":"quantitative","axis":null},"y":{"field":"l3","type":"quantitative","axis":null},"y2":{"field":"h3"}}},
  {"mark":{"type":"area","color":"#336f70","interpolate":"monotone"},"encoding":{"x":{"field":"t","type":"quantitative","axis":null},"y":{"field":"l4","type":"quantitative","axis":null},"y2":{"field":"h4"}}},
  {"mark":{"type":"line","strokeWidth":1.5,"interpolate":"monotone"},"encoding":{"x":{"field":"t","type":"quantitative","axis":{"orient":"bottom","values":[0,25,50,75,100],"labels":false,"domain":false,"zindex":1,"tickSize":{"condition":{"test":"datum.value % 50 === 0","value":-6},"value":-4}}},"y":{"field":"m","type":"quantitative","axis":{"orient":"left","values":[0.0005,0.001,0.0015,0.002,0.0025,0.003,0.0035,0.004,0.0045,0.005,0.0055,0.006],"labels":false,"domain":false,"zindex":1,"tickSize":{"condition":{"test":"indexof([0.0025,0.005], datum.value) >= 0","value":-7},"value":-4.5}}},"color":{"datum":"p_star (p eq.)","scale":{"range":["#e8191f"]},"legend":{"title":null,"orient":"none","legendX":4.5,"legendY":2.5}}}}
 ]},
{"width":258,"height":161,"data":{"name":"C"},"resolve":{"axis":{"x":"independent","y":"independent"}},
 "layer":[
  {"mark":{"type":"rule","color":"#a0a0a0","strokeWidth":1.2},"encoding":{"y":{"datum":0,"type":"quantitative","axis":null}}},
  {"mark":{"type":"area","color":"#8de9e9","interpolate":"monotone"},"encoding":{"x":{"field":"t","type":"quantitative","scale":{"domain":[-1.7,101.7],"nice":false,"zero":false},"axis":{"orient":"bottom","values":[0,50,100],"ticks":false,"labelPadding":1}},"y":{"field":"l1","type":"quantitative","scale":{"domain":[-0.016,0.025],"nice":false,"zero":false},"axis":{"orient":"left","values":[0,0.02],"format":".2f","ticks":false,"labelPadding":5}},"y2":{"field":"h1"}}},
  {"mark":{"type":"area","color":"#6cc6c7","interpolate":"monotone"},"encoding":{"x":{"field":"t","type":"quantitative","axis":null},"y":{"field":"l2","type":"quantitative","axis":null},"y2":{"field":"h2"}}},
  {"mark":{"type":"area","color":"#4e9c9d","interpolate":"monotone"},"encoding":{"x":{"field":"t","type":"quantitative","axis":null},"y":{"field":"l3","type":"quantitative","axis":null},"y2":{"field":"h3"}}},
  {"mark":{"type":"area","color":"#336f70","interpolate":"monotone"},"encoding":{"x":{"field":"t","type":"quantitative","axis":null},"y":{"field":"l4","type":"quantitative","axis":null},"y2":{"field":"h4"}}},
  {"mark":{"type":"line","strokeWidth":1.5,"interpolate":"monotone"},"encoding":{"x":{"field":"t","type":"quantitative","axis":{"orient":"bottom","values":[0,25,50,75,100],"labels":false,"domain":false,"zindex":1,"tickSize":{"condition":{"test":"datum.value % 50 === 0","value":-6},"value":-4}}},"y":{"field":"m","type":"quantitative","axis":{"orient":"left","values":[-0.012,-0.008,-0.004,0,0.004,0.008,0.012,0.016,0.02,0.024],"labels":false,"domain":false,"zindex":1,"tickSize":{"condition":{"test":"indexof([0,0.02], datum.value) >= 0","value":-7},"value":-4.5}}},"color":{"datum":"e (p eq.)","scale":{"range":["#e8191f"]},"legend":{"title":null,"orient":"none","legendX":4.5,"legendY":2.5}}}}
 ]},
{"width":258,"height":161,"data":{"name":"D"},"resolve":{"axis":{"x":"independent","y":"independent"}},
 "layer":[
  {"mark":{"type":"rule","color":"#a0a0a0","strokeWidth":1.2},"encoding":{"y":{"datum":0,"type":"quantitative","axis":null}}},
  {"mark":{"type":"area","color":"#8de9e9","interpolate":"monotone"},"encoding":{"x":{"field":"t","type":"quantitative","scale":{"domain":[-2.3,101.9],"nice":false,"zero":false},"axis":{"orient":"bottom","values":[0,50,100],"ticks":false,"labelPadding":1}},"y":{"field":"l1","type":"quantitative","scale":{"domain":[-0.0025,0.0063],"nice":false,"zero":false},"axis":{"orient":"left","values":[0,0.0025,0.005],"format":".4f","ticks":false,"labelPadding":5}},"y2":{"field":"h1"}}},
  {"mark":{"type":"area","color":"#6cc6c7","interpolate":"monotone"},"encoding":{"x":{"field":"t","type":"quantitative","axis":null},"y":{"field":"l2","type":"quantitative","axis":null},"y2":{"field":"h2"}}},
  {"mark":{"type":"area","color":"#4e9c9d","interpolate":"monotone"},"encoding":{"x":{"field":"t","type":"quantitative","axis":null},"y":{"field":"l3","type":"quantitative","axis":null},"y2":{"field":"h3"}}},
  {"mark":{"type":"area","color":"#336f70","interpolate":"monotone"},"encoding":{"x":{"field":"t","type":"quantitative","axis":null},"y":{"field":"l4","type":"quantitative","axis":null},"y2":{"field":"h4"}}},
  {"mark":{"type":"line","strokeWidth":1.5,"interpolate":"monotone"},"encoding":{"x":{"field":"t","type":"quantitative","axis":{"orient":"bottom","values":[0,25,50,75,100],"labels":false,"domain":false,"zindex":1,"tickSize":{"condition":{"test":"datum.value % 50 === 0","value":-6},"value":-4}}},"y":{"field":"m","type":"quantitative","axis":{"orient":"left","values":[-0.002,-0.0015,-0.001,-0.0005,0,0.0005,0.001,0.0015,0.002,0.0025,0.003,0.0035,0.004,0.0045,0.005,0.0055,0.006],"labels":false,"domain":false,"zindex":1,"tickSize":{"condition":{"test":"indexof([0,0.0025,0.005], datum.value) >= 0","value":-7},"value":-4.5}}},"color":{"datum":"p (p_star eq.)","scale":{"range":["#e8191f"]},"legend":{"title":null,"orient":"none","legendX":4.5,"legendY":2.5}}}}
 ]},
{"width":255,"height":161,"data":{"name":"E"},"resolve":{"axis":{"x":"independent","y":"independent"}},
 "layer":[
  {"mark":{"type":"area","color":"#8de9e9","interpolate":"monotone"},"encoding":{"x":{"field":"t","type":"quantitative","scale":{"domain":[-1.3,101.1],"nice":false,"zero":false},"axis":{"orient":"bottom","values":[0,50,100],"ticks":false,"labelPadding":1}},"y":{"field":"l1","type":"quantitative","scale":{"domain":[0.001,0.005],"nice":false,"zero":false},"axis":{"orient":"left","values":[0.002,0.003,0.004,0.005],"format":".3f","ticks":false,"labelPadding":5}},"y2":{"field":"h1"}}},
  {"mark":{"type":"area","color":"#6cc6c7","interpolate":"monotone"},"encoding":{"x":{"field":"t","type":"quantitative","axis":null},"y":{"field":"l2","type":"quantitative","axis":null},"y2":{"field":"h2"}}},
  {"mark":{"type":"area","color":"#4e9c9d","interpolate":"monotone"},"encoding":{"x":{"field":"t","type":"quantitative","axis":null},"y":{"field":"l3","type":"quantitative","axis":null},"y2":{"field":"h3"}}},
  {"mark":{"type":"area","color":"#336f70","interpolate":"monotone"},"encoding":{"x":{"field":"t","type":"quantitative","axis":null},"y":{"field":"l4","type":"quantitative","axis":null},"y2":{"field":"h4"}}},
  {"mark":{"type":"line","strokeWidth":1.5,"interpolate":"monotone"},"encoding":{"x":{"field":"t","type":"quantitative","axis":{"orient":"bottom","values":[0,25,50,75,100],"labels":false,"domain":false,"zindex":1,"tickSize":{"condition":{"test":"datum.value % 50 === 0","value":-6},"value":-4}}},"y":{"field":"m","type":"quantitative","axis":{"orient":"left","values":[0.0015,0.002,0.0025,0.003,0.0035,0.004,0.0045,0.005],"labels":false,"domain":false,"zindex":1,"tickSize":{"condition":{"test":"indexof([0.002,0.003,0.004,0.005], datum.value) >= 0","value":-7},"value":-4.5}}},"color":{"datum":"p_star (p_star eq.)","scale":{"range":["#e8191f"]},"legend":{"title":null,"orient":"none","legendX":4.5,"legendY":2.5}}}}
 ]},
{"width":258,"height":161,"data":{"name":"F"},"resolve":{"axis":{"x":"independent","y":"independent"}},
 "layer":[
  {"mark":{"type":"rule","color":"#a0a0a0","strokeWidth":1.2},"encoding":{"y":{"datum":0,"type":"quantitative","axis":null}}},
  {"mark":{"type":"area","color":"#8de9e9","interpolate":"monotone"},"encoding":{"x":{"field":"t","type":"quantitative","scale":{"domain":[-1.7,101.7],"nice":false,"zero":false},"axis":{"orient":"bottom","values":[0,50,100],"ticks":false,"labelPadding":1}},"y":{"field":"l1","type":"quantitative","scale":{"domain":[-0.025,0.01],"nice":false,"zero":false},"axis":{"orient":"left","values":[-0.02,-0.01,0,0.01],"format":".2f","labelExpr":"replace(datum.label, '\u2212', '-')","ticks":false,"labelPadding":5}},"y2":{"field":"h1"}}},
  {"mark":{"type":"area","color":"#6cc6c7","interpolate":"monotone"},"encoding":{"x":{"field":"t","type":"quantitative","axis":null},"y":{"field":"l2","type":"quantitative","axis":null},"y2":{"field":"h2"}}},
  {"mark":{"type":"area","color":"#4e9c9d","interpolate":"monotone"},"encoding":{"x":{"field":"t","type":"quantitative","axis":null},"y":{"field":"l3","type":"quantitative","axis":null},"y2":{"field":"h3"}}},
  {"mark":{"type":"area","color":"#336f70","interpolate":"monotone"},"encoding":{"x":{"field":"t","type":"quantitative","axis":null},"y":{"field":"l4","type":"quantitative","axis":null},"y2":{"field":"h4"}}},
  {"mark":{"type":"line","strokeWidth":1.5,"interpolate":"monotone"},"encoding":{"x":{"field":"t","type":"quantitative","axis":{"orient":"bottom","values":[0,25,50,75,100],"labels":false,"domain":false,"zindex":1,"tickSize":{"condition":{"test":"datum.value % 50 === 0","value":-6},"value":-4}}},"y":{"field":"m","type":"quantitative","axis":{"orient":"left","values":[-0.02,-0.015,-0.01,-0.005,0,0.005,0.01],"labels":false,"domain":false,"zindex":1,"tickSize":{"condition":{"test":"indexof([-0.02,-0.01,0,0.01], datum.value) >= 0","value":-7},"value":-4.5}}},"color":{"datum":"e (p_star eq.)","scale":{"range":["#e8191f"]},"legend":{"title":null,"orient":"none","legendX":4.5,"legendY":2.5}}}}
 ]},
{"width":258,"height":161,"data":{"name":"G"},"resolve":{"axis":{"x":"independent","y":"independent"}},
 "layer":[
  {"mark":{"type":"rule","color":"#a0a0a0","strokeWidth":1.2},"encoding":{"y":{"datum":0,"type":"quantitative","axis":null}}},
  {"mark":{"type":"area","color":"#8de9e9","interpolate":"monotone"},"encoding":{"x":{"field":"t","type":"quantitative","scale":{"domain":[-2.3,101.9],"nice":false,"zero":false},"axis":{"orient":"bottom","values":[0,50,100],"ticks":false,"labelPadding":1}},"y":{"field":"l1","type":"quantitative","scale":{"domain":[-0.008,0.016],"nice":false,"zero":false},"axis":{"orient":"left","values":[0,0.01],"format":".2f","ticks":false,"labelPadding":5}},"y2":{"field":"h1"}}},
  {"mark":{"type":"area","color":"#6cc6c7","interpolate":"monotone"},"encoding":{"x":{"field":"t","type":"quantitative","axis":null},"y":{"field":"l2","type":"quantitative","axis":null},"y2":{"field":"h2"}}},
  {"mark":{"type":"area","color":"#4e9c9d","interpolate":"monotone"},"encoding":{"x":{"field":"t","type":"quantitative","axis":null},"y":{"field":"l3","type":"quantitative","axis":null},"y2":{"field":"h3"}}},
  {"mark":{"type":"area","color":"#336f70","interpolate":"monotone"},"encoding":{"x":{"field":"t","type":"quantitative","axis":null},"y":{"field":"l4","type":"quantitative","axis":null},"y2":{"field":"h4"}}},
  {"mark":{"type":"line","strokeWidth":1.5,"interpolate":"monotone"},"encoding":{"x":{"field":"t","type":"quantitative","axis":{"orient":"bottom","values":[0,25,50,75,100],"labels":false,"domain":false,"zindex":1,"tickSize":{"condition":{"test":"datum.value % 50 === 0","value":-6},"value":-4}}},"y":{"field":"m","type":"quantitative","axis":{"orient":"left","values":[-0.006,-0.004,-0.002,0,0.002,0.004,0.006,0.008,0.01,0.012,0.014],"labels":false,"domain":false,"zindex":1,"tickSize":{"condition":{"test":"indexof([0,0.01], datum.value) >= 0","value":-7},"value":-4.5}}},"color":{"datum":"p (e eq.)","scale":{"range":["#e8191f"]},"legend":{"title":null,"orient":"none","legendX":4.5,"legendY":2.5}}}}
 ]},
{"width":255,"height":161,"data":{"name":"H"},"resolve":{"axis":{"x":"independent","y":"independent"}},
 "layer":[
  {"mark":{"type":"rule","color":"#a0a0a0","strokeWidth":1.2},"encoding":{"y":{"datum":0,"type":"quantitative","axis":null}}},
  {"mark":{"type":"area","color":"#8de9e9","interpolate":"monotone"},"encoding":{"x":{"field":"t","type":"quantitative","scale":{"domain":[-1.3,101.1],"nice":false,"zero":false},"axis":{"orient":"bottom","values":[0,50,100],"ticks":false,"labelPadding":1}},"y":{"field":"l1","type":"quantitative","scale":{"domain":[-0.0049,0.0051],"nice":false,"zero":false},"axis":{"orient":"left","values":[-0.0025,0,0.0025,0.005],"format":".4f","labelExpr":"replace(datum.label, '\u2212', '-')","ticks":false,"labelPadding":5}},"y2":{"field":"h1"}}},
  {"mark":{"type":"area","color":"#6cc6c7","interpolate":"monotone"},"encoding":{"x":{"field":"t","type":"quantitative","axis":null},"y":{"field":"l2","type":"quantitative","axis":null},"y2":{"field":"h2"}}},
  {"mark":{"type":"area","color":"#4e9c9d","interpolate":"monotone"},"encoding":{"x":{"field":"t","type":"quantitative","axis":null},"y":{"field":"l3","type":"quantitative","axis":null},"y2":{"field":"h3"}}},
  {"mark":{"type":"area","color":"#336f70","interpolate":"monotone"},"encoding":{"x":{"field":"t","type":"quantitative","axis":null},"y":{"field":"l4","type":"quantitative","axis":null},"y2":{"field":"h4"}}},
  {"mark":{"type":"line","strokeWidth":1.5,"interpolate":"monotone"},"encoding":{"x":{"field":"t","type":"quantitative","axis":{"orient":"bottom","values":[0,25,50,75,100],"labels":false,"domain":false,"zindex":1,"tickSize":{"condition":{"test":"datum.value % 50 === 0","value":-6},"value":-4}}},"y":{"field":"m","type":"quantitative","axis":{"orient":"left","values":[-0.00375,-0.0025,-0.00125,0,0.00125,0.0025,0.00375,0.005],"labels":false,"domain":false,"zindex":1,"tickSize":{"condition":{"test":"indexof([-0.0025,0,0.0025,0.005], datum.value) >= 0","value":-7},"value":-4.5}}},"color":{"datum":"p_star (e eq.)","scale":{"range":["#e8191f"]},"legend":{"title":null,"orient":"none","legendX":4.5,"legendY":2.5}}}}
 ]},
{"width":258,"height":161,"data":{"name":"I"},"resolve":{"axis":{"x":"independent","y":"independent"}},
 "layer":[
  {"mark":{"type":"rule","color":"#a0a0a0","strokeWidth":1.2},"encoding":{"y":{"datum":0,"type":"quantitative","axis":null}}},
  {"mark":{"type":"area","color":"#8de9e9","interpolate":"monotone"},"encoding":{"x":{"field":"t","type":"quantitative","scale":{"domain":[-1.7,101.7],"nice":false,"zero":false},"axis":{"orient":"bottom","values":[0,50,100],"ticks":false,"labelPadding":1}},"y":{"field":"l1","type":"quantitative","scale":{"domain":[-0.025,0.0755],"nice":false,"zero":false},"axis":{"orient":"left","values":[0,0.025,0.05,0.075],"format":".3f","ticks":false,"labelPadding":5}},"y2":{"field":"h1"}}},
  {"mark":{"type":"area","color":"#6cc6c7","interpolate":"monotone"},"encoding":{"x":{"field":"t","type":"quantitative","axis":null},"y":{"field":"l2","type":"quantitative","axis":null},"y2":{"field":"h2"}}},
  {"mark":{"type":"area","color":"#4e9c9d","interpolate":"monotone"},"encoding":{"x":{"field":"t","type":"quantitative","axis":null},"y":{"field":"l3","type":"quantitative","axis":null},"y2":{"field":"h3"}}},
  {"mark":{"type":"area","color":"#336f70","interpolate":"monotone"},"encoding":{"x":{"field":"t","type":"quantitative","axis":null},"y":{"field":"l4","type":"quantitative","axis":null},"y2":{"field":"h4"}}},
  {"mark":{"type":"line","strokeWidth":1.5,"interpolate":"monotone"},"encoding":{"x":{"field":"t","type":"quantitative","axis":{"orient":"bottom","values":[0,25,50,75,100],"labels":false,"domain":false,"zindex":1,"tickSize":{"condition":{"test":"datum.value % 50 === 0","value":-6},"value":-4}}},"y":{"field":"m","type":"quantitative","axis":{"orient":"left","values":[-0.0125,0,0.0125,0.025,0.0375,0.05,0.0625,0.075],"labels":false,"domain":false,"zindex":1,"tickSize":{"condition":{"test":"indexof([0,0.025,0.05,0.075], datum.value) >= 0","value":-7},"value":-4.5}}},"color":{"datum":"e (e eq.)","scale":{"range":["#e8191f"]},"legend":{"title":null,"orient":"none","legendX":4.5,"legendY":2.5}}}}
 ]}
]
}
